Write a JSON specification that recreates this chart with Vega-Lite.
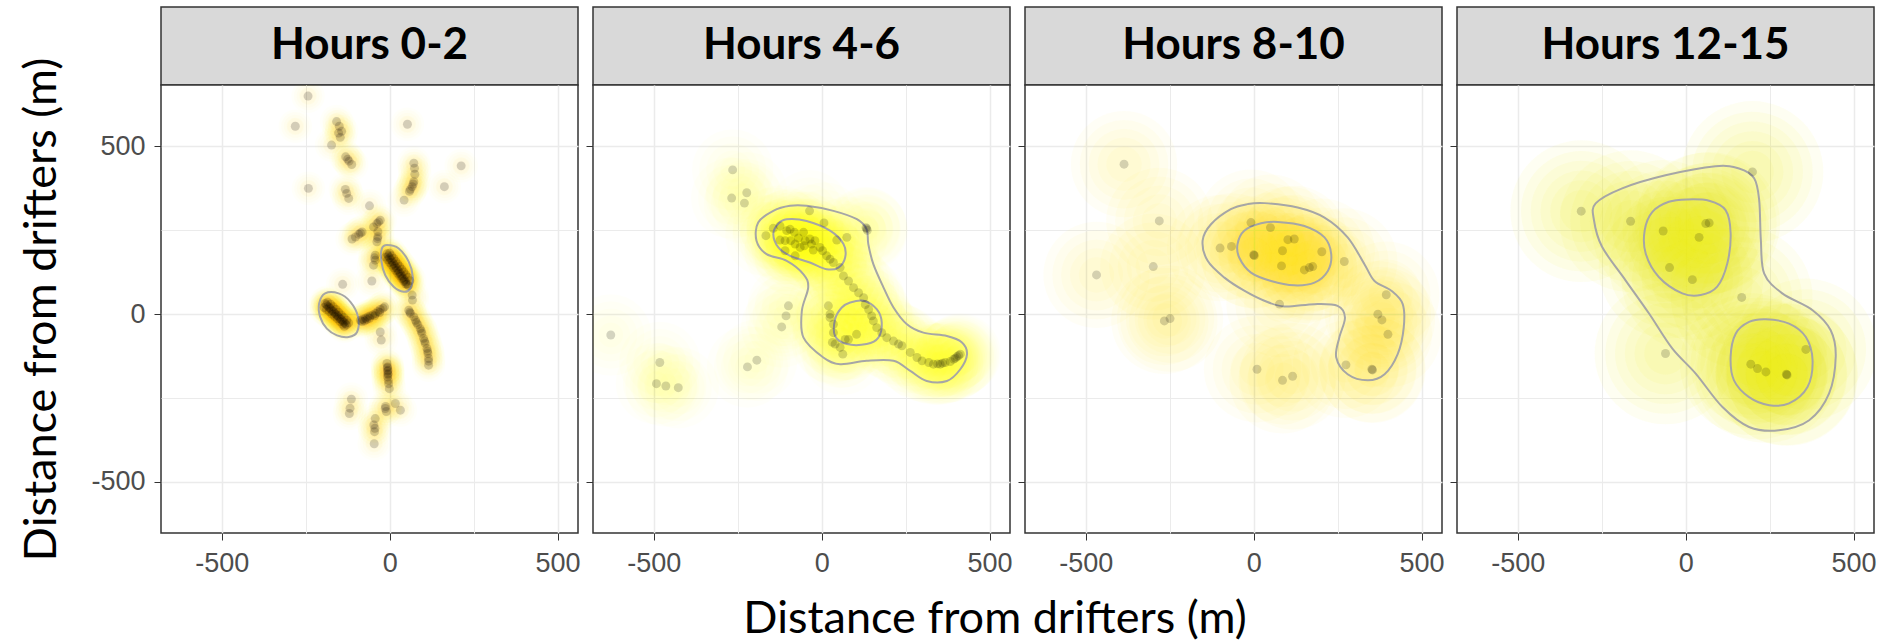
{
  "$schema": "https://vega.github.io/schema/vega-lite/v6.json",
  "background": "white",
  "padding": {"left": 19, "top": 6, "right": 0, "bottom": 0},
  "config": {"view": {"stroke": null}},
  "title": {"text": "Distance from drifters (m)", "orient": "bottom", "anchor": "middle", "frame": "bounds", "dx": 47, "offset": 20, "baseline": "top", "font": "Lato", "fontSize": 45, "fontWeight": "normal", "color": "#000000"},
  "datasets": {
    "p1": [
      {"x":-243,"y":650},{"x":-281,"y":560},{"x":-158,"y":574},{"x":-150,"y":560},{"x":-143,"y":545},{"x":-147,"y":527},{"x":-152,"y":540},{"x":-173,"y":504},{"x":53,"y":566},
      {"x":-131,"y":469},{"x":-121,"y":456},{"x":-113,"y":446},{"x":-125,"y":462},
      {"x":72,"y":450},{"x":74,"y":435},{"x":75,"y":417},{"x":72,"y":395},{"x":67,"y":380},{"x":59,"y":366},{"x":43,"y":340},{"x":62,"y":372},{"x":70,"y":388},
      {"x":213,"y":442},{"x":163,"y":380},{"x":-242,"y":375},{"x":-132,"y":372},{"x":-122,"y":345},{"x":-128,"y":360},{"x":-60,"y":323},
      {"x":-28,"y":280},{"x":-38,"y":270},{"x":-48,"y":260},{"x":-33,"y":275},
      {"x":-82,"y":245},{"x":-92,"y":238},{"x":-102,"y":230},{"x":-87,"y":242},{"x":-112,"y":224},
      {"x":-35,"y":246},{"x":-35,"y":231},{"x":-38,"y":216},{"x":-36,"y":225},
      {"x":-43,"y":176},{"x":-43,"y":161},{"x":-48,"y":146},{"x":-45,"y":168},
      {"x":-140,"y":89},{"x":-53,"y":99},{"x":-28,"y":-53},{"x":-25,"y":-77},
      {"x":67,"y":57},{"x":68,"y":42},{"x":57,"y":12},{"x":62,"y":2},{"x":72,"y":-8},{"x":77,"y":-18},{"x":84,"y":-31},{"x":91,"y":-43},{"x":96,"y":-57},{"x":101,"y":-72},{"x":106,"y":-87},{"x":111,"y":-102},{"x":114,"y":-117},{"x":116,"y":-132},{"x":116,"y":-152},{"x":60,"y":6},{"x":80,"y":-25},{"x":94,"y":-50},{"x":104,"y":-80},{"x":113,"y":-110},{"x":116,"y":-140},
      {"x":-8,"y":-147},{"x":-6,"y":-157},{"x":-5,"y":-167},{"x":-5,"y":-177},{"x":-6,"y":-187},{"x":-4,"y":-197},{"x":-3,"y":-207},{"x":-1,"y":-222},{"x":-6,"y":-170},{"x":-5,"y":-180},{"x":-7,"y":-160},
      {"x":-114,"y":-253},{"x":-120,"y":-296},{"x":-118,"y":-280},{"x":-13,"y":-281},{"x":-10,"y":-290},{"x":-12,"y":-275},{"x":17,"y":-266},{"x":32,"y":-286},{"x":-43,"y":-311},{"x":-45,"y":-350},{"x":-46,"y":-386},{"x":-47,"y":-330},{"x":-44,"y":-340},
      {"x":-87,"y":-18},{"x":-80,"y":-15},{"x":-72,"y":-12},{"x":-65,"y":-8},{"x":-58,"y":-5},{"x":-50,"y":-2},{"x":-42,"y":2},{"x":-35,"y":8},{"x":-28,"y":14},{"x":-20,"y":18},{"x":-15,"y":22},{"x":-75,"y":-20},{"x":-60,"y":-12},{"x":-45,"y":-5},{"x":-30,"y":5},{"x":-83,"y":-22},{"x":-68,"y":-16},
      {"x":-192,"y":32},{"x":-188,"y":28},{"x":-184,"y":24},{"x":-180,"y":20},{"x":-176,"y":16},{"x":-172,"y":12},{"x":-168,"y":8},{"x":-164,"y":4},{"x":-160,"y":0},{"x":-156,"y":-4},{"x":-152,"y":-8},{"x":-148,"y":-12},{"x":-144,"y":-16},{"x":-140,"y":-20},{"x":-136,"y":-24},{"x":-132,"y":-28},{"x":-128,"y":-32},{"x":-195,"y":20},{"x":-188,"y":14},{"x":-180,"y":8},{"x":-172,"y":0},{"x":-164,"y":-6},{"x":-156,"y":-14},{"x":-148,"y":-22},{"x":-140,"y":-30},{"x":-135,"y":-36},{"x":-185,"y":36},{"x":-176,"y":30},{"x":-168,"y":22},{"x":-160,"y":14},{"x":-152,"y":6},{"x":-144,"y":-2},{"x":-136,"y":-10},{"x":-128,"y":-18},{"x":-122,"y":-26},
      {"x":-8,"y":180},{"x":-4,"y":174},{"x":0,"y":168},{"x":4,"y":162},{"x":8,"y":156},{"x":12,"y":150},{"x":16,"y":144},{"x":20,"y":138},{"x":24,"y":132},{"x":28,"y":126},{"x":32,"y":120},{"x":36,"y":114},{"x":40,"y":108},{"x":44,"y":102},{"x":48,"y":96},{"x":52,"y":90},{"x":56,"y":85},{"x":-12,"y":170},{"x":-6,"y":162},{"x":0,"y":154},{"x":6,"y":146},{"x":12,"y":138},{"x":18,"y":130},{"x":24,"y":122},{"x":30,"y":114},{"x":36,"y":106},{"x":42,"y":98},{"x":48,"y":90},{"x":0,"y":182},{"x":6,"y":174},{"x":12,"y":166},{"x":18,"y":158},{"x":24,"y":150},{"x":30,"y":142},{"x":36,"y":134},{"x":42,"y":126},{"x":48,"y":118},{"x":54,"y":110},{"x":60,"y":100}
    ],
    "p2": [
      {"x":-265,"y":430},{"x":-268,"y":346},{"x":-223,"y":362},{"x":-230,"y":331},{"x":-628,"y":-62},{"x":-482,"y":-144},{"x":-492,"y":-207},{"x":-464,"y":-214},{"x":-427,"y":-219},{"x":-193,"y":-137},{"x":-221,"y":-157},{"x":-99,"y":25},{"x":-106,"y":-5},{"x":-119,"y":-38},{"x":-36,"y":308},{"x":7,"y":272},{"x":134,"y":255},{"x":136,"y":250},{"x":132,"y":258},
      {"x":-166,"y":234},{"x":-144,"y":256},{"x":-124,"y":263},{"x":-104,"y":249},{"x":-94,"y":253},{"x":-81,"y":244},{"x":-92,"y":219},{"x":-109,"y":219},{"x":-124,"y":221},{"x":-79,"y":209},{"x":-64,"y":199},{"x":-52,"y":204},{"x":-35,"y":224},{"x":-30,"y":209},{"x":-25,"y":191},{"x":-5,"y":199},{"x":3,"y":189},{"x":15,"y":174},{"x":25,"y":164},{"x":35,"y":154},{"x":45,"y":221},{"x":75,"y":229},{"x":-79,"y":174},{"x":-109,"y":189},{"x":-20,"y":219},{"x":-54,"y":244},{"x":-69,"y":227},{"x":-49,"y":219},
      {"x":55,"y":139},{"x":65,"y":114},{"x":80,"y":99},{"x":95,"y":79},{"x":110,"y":64},{"x":125,"y":49},{"x":130,"y":29},{"x":140,"y":14},{"x":149,"y":-5},{"x":154,"y":-20},{"x":164,"y":-40},{"x":179,"y":-55},{"x":194,"y":-70},{"x":214,"y":-80},{"x":229,"y":-89},{"x":239,"y":-94},
      {"x":264,"y":-114},{"x":284,"y":-129},{"x":299,"y":-139},{"x":319,"y":-144},{"x":333,"y":-149},{"x":353,"y":-149},{"x":368,"y":-144},{"x":383,"y":-141},{"x":393,"y":-134},{"x":403,"y":-127},{"x":413,"y":-119},{"x":398,"y":-131},{"x":408,"y":-123},{"x":345,"y":-148},{"x":360,"y":-146},
      {"x":20,"y":25},{"x":25,"y":0},{"x":35,"y":-30},{"x":35,"y":-55},{"x":32,"y":-84},{"x":55,"y":-99},{"x":63,"y":-119},{"x":70,"y":-75},{"x":104,"y":-60},{"x":80,"y":-75},{"x":40,"y":-89},{"x":25,"y":-10}
    ],
    "p3": [
      {"x":-386,"y":447},{"x":-281,"y":278},{"x":-468,"y":117},{"x":-299,"y":142},{"x":-266,"y":-20},{"x":-249,"y":-13},{"x":-100,"y":197},{"x":-66,"y":202},{"x":-8,"y":273},{"x":50,"y":258},{"x":0,"y":177},{"x":2,"y":175},{"x":86,"y":189},{"x":102,"y":222},{"x":121,"y":224},{"x":83,"y":144},{"x":151,"y":132},{"x":166,"y":139},{"x":176,"y":142},{"x":203,"y":186},{"x":270,"y":157},{"x":77,"y":30},{"x":395,"y":58},{"x":370,"y":0},{"x":382,"y":-17},{"x":400,"y":-60},{"x":275,"y":-151},{"x":352,"y":-164},{"x":354,"y":-166},{"x":10,"y":-164},{"x":86,"y":-197},{"x":116,"y":-185}
    ],
    "p4": [
      {"x":-311,"y":307},{"x":-164,"y":277},{"x":199,"y":424},{"x":-67,"y":248},{"x":60,"y":270},{"x":70,"y":272},{"x":40,"y":229},{"x":-48,"y":139},{"x":20,"y":103},{"x":167,"y":50},{"x":-60,"y":-117},{"x":358,"y":-105},{"x":194,"y":-149},{"x":214,"y":-162},{"x":239,"y":-172},{"x":300,"y":-179},{"x":302,"y":-181}
    ],
    "c1": [
      {"id":"a","o":1,"x":-8,"y":206},{"id":"a","o":2,"x":27,"y":196},{"id":"a","o":3,"x":57,"y":156},{"id":"a","o":4,"x":69,"y":111},{"id":"a","o":5,"x":62,"y":77},{"id":"a","o":6,"x":42,"y":67},{"id":"a","o":7,"x":12,"y":82},{"id":"a","o":8,"x":-13,"y":116},{"id":"a","o":9,"x":-25,"y":161},{"id":"a","o":10,"x":-23,"y":196},
      {"id":"b","o":1,"x":-192,"y":62},{"id":"b","o":2,"x":-152,"y":62},{"id":"b","o":3,"x":-117,"y":37},{"id":"b","o":4,"x":-94,"y":-8},{"id":"b","o":5,"x":-97,"y":-53},{"id":"b","o":6,"x":-122,"y":-68},{"id":"b","o":7,"x":-157,"y":-63},{"id":"b","o":8,"x":-187,"y":-43},{"id":"b","o":9,"x":-207,"y":-8},{"id":"b","o":10,"x":-210,"y":32}
    ],
    "c2": [
      {"id":"o","o":1,"x":-45,"y":323},{"id":"o","o":2,"x":35,"y":308},{"id":"o","o":3,"x":105,"y":283},{"id":"o","o":4,"x":134,"y":253},{"id":"o","o":5,"x":139,"y":209},{"id":"o","o":6,"x":154,"y":149},{"id":"o","o":7,"x":184,"y":80},{"id":"o","o":8,"x":214,"y":20},{"id":"o","o":9,"x":254,"y":-30},{"id":"o","o":10,"x":303,"y":-55},{"id":"o","o":11,"x":373,"y":-65},{"id":"o","o":12,"x":418,"y":-84},{"id":"o","o":13,"x":433,"y":-119},{"id":"o","o":14,"x":413,"y":-164},{"id":"o","o":15,"x":373,"y":-199},{"id":"o","o":16,"x":313,"y":-199},{"id":"o","o":17,"x":264,"y":-169},{"id":"o","o":18,"x":214,"y":-139},{"id":"o","o":19,"x":134,"y":-139},{"id":"o","o":20,"x":55,"y":-149},{"id":"o","o":21,"x":5,"y":-129},{"id":"o","o":22,"x":-54,"y":-70},{"id":"o","o":23,"x":-59,"y":10},{"id":"o","o":24,"x":-40,"y":80},{"id":"o","o":25,"x":-54,"y":119},{"id":"o","o":26,"x":-104,"y":159},{"id":"o","o":27,"x":-164,"y":179},{"id":"o","o":28,"x":-194,"y":219},{"id":"o","o":29,"x":-189,"y":273},{"id":"o","o":30,"x":-144,"y":308},{"id":"o","o":31,"x":-94,"y":323},
      {"id":"a","o":1,"x":-104,"y":283},{"id":"a","o":2,"x":-45,"y":278},{"id":"a","o":3,"x":25,"y":249},{"id":"a","o":4,"x":65,"y":209},{"id":"a","o":5,"x":70,"y":169},{"id":"a","o":6,"x":50,"y":139},{"id":"a","o":7,"x":15,"y":134},{"id":"a","o":8,"x":-35,"y":154},{"id":"a","o":9,"x":-94,"y":174},{"id":"a","o":10,"x":-129,"y":199},{"id":"a","o":11,"x":-144,"y":239},{"id":"a","o":12,"x":-129,"y":270},
      {"id":"b","o":1,"x":85,"y":35},{"id":"b","o":2,"x":125,"y":40},{"id":"b","o":3,"x":164,"y":15},{"id":"b","o":4,"x":179,"y":-25},{"id":"b","o":5,"x":169,"y":-70},{"id":"b","o":6,"x":134,"y":-89},{"id":"b","o":7,"x":75,"y":-89},{"id":"b","o":8,"x":40,"y":-65},{"id":"b","o":9,"x":40,"y":-15},{"id":"b","o":10,"x":60,"y":20}
    ],
    "c3": [
      {"id":"o","o":1,"x":32,"y":331},{"id":"o","o":2,"x":131,"y":318},{"id":"o","o":3,"x":211,"y":288},{"id":"o","o":4,"x":280,"y":229},{"id":"o","o":5,"x":330,"y":149},{"id":"o","o":6,"x":360,"y":99},{"id":"o","o":7,"x":410,"y":70},{"id":"o","o":8,"x":444,"y":30},{"id":"o","o":9,"x":447,"y":-40},{"id":"o","o":10,"x":429,"y":-119},{"id":"o","o":11,"x":390,"y":-179},{"id":"o","o":12,"x":340,"y":-197},{"id":"o","o":13,"x":280,"y":-179},{"id":"o","o":14,"x":246,"y":-129},{"id":"o","o":15,"x":255,"y":-70},{"id":"o","o":16,"x":272,"y":-10},{"id":"o","o":17,"x":250,"y":25},{"id":"o","o":18,"x":181,"y":30},{"id":"o","o":19,"x":91,"y":23},{"id":"o","o":20,"x":32,"y":40},{"id":"o","o":21,"x":-28,"y":70},{"id":"o","o":22,"x":-87,"y":109},{"id":"o","o":23,"x":-137,"y":159},{"id":"o","o":24,"x":-152,"y":219},{"id":"o","o":25,"x":-127,"y":268},{"id":"o","o":26,"x":-68,"y":313},{"id":"o","o":27,"x":-18,"y":328},
      {"id":"a","o":1,"x":72,"y":275},{"id":"a","o":2,"x":151,"y":263},{"id":"a","o":3,"x":211,"y":229},{"id":"a","o":4,"x":231,"y":179},{"id":"a","o":5,"x":221,"y":129},{"id":"a","o":6,"x":181,"y":94},{"id":"a","o":7,"x":121,"y":86},{"id":"a","o":8,"x":52,"y":99},{"id":"a","o":9,"x":-8,"y":124},{"id":"a","o":10,"x":-43,"y":169},{"id":"a","o":11,"x":-48,"y":209},{"id":"a","o":12,"x":-28,"y":249},{"id":"a","o":13,"x":22,"y":271}
    ],
    "c4": [
      {"id":"o","o":1,"x":-268,"y":330},{"id":"o","o":2,"x":-189,"y":375},{"id":"o","o":3,"x":-60,"y":414},{"id":"o","o":4,"x":89,"y":441},{"id":"o","o":5,"x":159,"y":434},{"id":"o","o":6,"x":204,"y":405},{"id":"o","o":7,"x":219,"y":340},{"id":"o","o":8,"x":224,"y":221},{"id":"o","o":9,"x":234,"y":121},{"id":"o","o":10,"x":288,"y":62},{"id":"o","o":11,"x":378,"y":12},{"id":"o","o":12,"x":432,"y":-48},{"id":"o","o":13,"x":447,"y":-127},{"id":"o","o":14,"x":427,"y":-237},{"id":"o","o":15,"x":368,"y":-316},{"id":"o","o":16,"x":278,"y":-346},{"id":"o","o":17,"x":189,"y":-336},{"id":"o","o":18,"x":109,"y":-276},{"id":"o","o":19,"x":30,"y":-177},{"id":"o","o":20,"x":-40,"y":-102},{"id":"o","o":21,"x":-109,"y":2},{"id":"o","o":22,"x":-179,"y":101},{"id":"o","o":23,"x":-249,"y":201},{"id":"o","o":24,"x":-273,"y":280},
      {"id":"a","o":1,"x":5,"y":342},{"id":"a","o":2,"x":70,"y":338},{"id":"a","o":3,"x":119,"y":310},{"id":"a","o":4,"x":134,"y":241},{"id":"a","o":5,"x":124,"y":151},{"id":"a","o":6,"x":94,"y":82},{"id":"a","o":7,"x":45,"y":57},{"id":"a","o":8,"x":-10,"y":62},{"id":"a","o":9,"x":-80,"y":111},{"id":"a","o":10,"x":-119,"y":181},{"id":"a","o":11,"x":-122,"y":250},{"id":"a","o":12,"x":-99,"y":305},{"id":"a","o":13,"x":-50,"y":335},
      {"id":"b","o":1,"x":239,"y":-15},{"id":"b","o":2,"x":308,"y":-28},{"id":"b","o":3,"x":358,"y":-68},{"id":"b","o":4,"x":378,"y":-137},{"id":"b","o":5,"x":363,"y":-217},{"id":"b","o":6,"x":308,"y":-266},{"id":"b","o":7,"x":249,"y":-271},{"id":"b","o":8,"x":189,"y":-247},{"id":"b","o":9,"x":144,"y":-197},{"id":"b","o":10,"x":134,"y":-127},{"id":"b","o":11,"x":149,"y":-58},{"id":"b","o":12,"x":189,"y":-23}
    ]
  },
  "spacing": 3,
  "resolve": {"scale": {"x": "independent", "y": "independent"}},
  "hconcat": [
    {
      "vconcat": [
        {
          "width": 417, "height": 78,
          "view": {"fill": "#d9d9d9", "stroke": "#333333", "strokeWidth": 1.5},
          "data": {"values": [{"label": "Hours 0-2"}]},
          "mark": {"type": "text", "font": "Lato", "fontWeight": "bold", "fontSize": 44, "color": "#000000"},
          "encoding": {"text": {"field": "label"}, "x": {"field": "label", "type": "nominal", "axis": null}, "y": {"field": "label", "type": "nominal", "axis": null}}
        },
        {
          "width": 417, "height": 448,
          "view": {"fill": "white", "stroke": "#333333", "strokeWidth": 1.5},
          "encoding": {
            "x": {"field": "x", "type": "quantitative", "scale": {"domain": [-681, 561], "nice": false, "zero": false},
              "axis": {"values": [-500, -250, 0, 250, 500], "labelExpr": "abs(datum.value) == 250 ? '' : (datum.value < 0 ? '-' + abs(datum.value) : '' + datum.value)", "title": null, "domain": false, "grid": true, "gridColor": "#ebebeb", "gridWidth": {"condition": {"test": "abs(datum.value) == 250", "value": 1}, "value": 1.5}, "tickSize": 7, "tickColor": "#333333", "tickOpacity": {"condition": {"test": "abs(datum.value) == 250", "value": 0}, "value": 1}, "labelFont": "Liberation Sans", "labelFontSize": 27, "labelColor": "#4d4d4d", "labelPadding": 10, "labelFlush": false, "labelOverlap": false}},
            "y": {"field": "y", "type": "quantitative", "scale": {"domain": [-652, 683], "nice": false, "zero": false},
              "axis": {"values": [-500, -250, 0, 250, 500], "labelExpr": "abs(datum.value) == 250 ? '' : (datum.value < 0 ? '-' + abs(datum.value) : '' + datum.value)", "title": "Distance from drifters (m)", "titleFont": "Lato", "titleFontSize": 45, "titleFontWeight": "normal", "titleColor": "#000000", "titlePadding": 26, "domain": false, "grid": true, "gridColor": "#ebebeb", "gridWidth": {"condition": {"test": "abs(datum.value) == 250", "value": 1}, "value": 1.5}, "tickSize": 7, "tickColor": "#333333", "tickOpacity": {"condition": {"test": "abs(datum.value) == 250", "value": 0}, "value": 1}, "labelFont": "Liberation Sans", "labelFontSize": 27, "labelColor": "#4d4d4d", "labelPadding": 9, "labelFlush": false, "labelOverlap": false}}
          },
          "layer": [
            {"data": {"name": "p1"}, "mark": {"type": "circle", "size": 1134, "color": "#f4e800", "opacity": 0.02, "clip": true}},
            {"data": {"name": "p1"}, "mark": {"type": "circle", "size": 804, "color": "#f4e800", "opacity": 0.025, "clip": true}},
            {"data": {"name": "p1"}, "mark": {"type": "circle", "size": 531, "color": "#f4e800", "opacity": 0.025, "clip": true}},
            {"data": {"name": "p1"}, "mark": {"type": "circle", "size": 314, "color": "#f4e800", "opacity": 0.03, "clip": true}},
            {"data": {"name": "p1"}, "mark": {"type": "circle", "size": 254, "color": "#f2a000", "opacity": 0.02, "clip": true}},
            {"data": {"name": "p1"}, "mark": {"type": "circle", "size": 113, "color": "#e8501a", "opacity": 0.02, "clip": true}},
            {"data": {"name": "c1"}, "mark": {"type": "line", "color": "#a6a6a6", "strokeWidth": 2, "interpolate": "cardinal-closed", "clip": true}, "encoding": {"detail": {"field": "id"}, "order": {"field": "o", "type": "quantitative"}}},
            {"data": {"name": "p1"}, "mark": {"type": "circle", "size": 80, "color": "#000000", "opacity": 0.17, "clip": true}}
          ]
        }
      ],
      "spacing": 0, "bounds": "flush",
      "resolve": {"scale": {"x": "independent", "y": "independent"}}
    },
    {
      "vconcat": [
        {
          "width": 417, "height": 78,
          "view": {"fill": "#d9d9d9", "stroke": "#333333", "strokeWidth": 1.5},
          "data": {"values": [{"label": "Hours 4-6"}]},
          "mark": {"type": "text", "font": "Lato", "fontWeight": "bold", "fontSize": 44, "color": "#000000"},
          "encoding": {"text": {"field": "label"}, "x": {"field": "label", "type": "nominal", "axis": null}, "y": {"field": "label", "type": "nominal", "axis": null}}
        },
        {
          "width": 417, "height": 448,
          "view": {"fill": "white", "stroke": "#333333", "strokeWidth": 1.5},
          "encoding": {
            "x": {"field": "x", "type": "quantitative", "scale": {"domain": [-681, 561], "nice": false, "zero": false},
              "axis": {"values": [-500, -250, 0, 250, 500], "labelExpr": "abs(datum.value) == 250 ? '' : (datum.value < 0 ? '-' + abs(datum.value) : '' + datum.value)", "title": null, "domain": false, "grid": true, "gridColor": "#ebebeb", "gridWidth": {"condition": {"test": "abs(datum.value) == 250", "value": 1}, "value": 1.5}, "tickSize": 7, "tickColor": "#333333", "tickOpacity": {"condition": {"test": "abs(datum.value) == 250", "value": 0}, "value": 1}, "labelFont": "Liberation Sans", "labelFontSize": 27, "labelColor": "#4d4d4d", "labelPadding": 10, "labelFlush": false, "labelOverlap": false}},
            "y": {"field": "y", "type": "quantitative", "scale": {"domain": [-652, 683], "nice": false, "zero": false},
              "axis": {"values": [-500, -250, 0, 250, 500], "labels": false, "title": null, "domain": false, "grid": true, "gridColor": "#ebebeb", "gridWidth": {"condition": {"test": "abs(datum.value) == 250", "value": 1}, "value": 1.5}, "tickSize": 7, "tickColor": "#333333", "tickOpacity": {"condition": {"test": "abs(datum.value) == 250", "value": 0}, "value": 1}}}
          },
          "layer": [
            {"data": {"name": "p2"}, "mark": {"type": "circle", "size": 6648, "color": "#f4e800", "opacity": 0.018, "clip": true}},
            {"data": {"name": "p2"}, "mark": {"type": "circle", "size": 4536, "color": "#f4e800", "opacity": 0.018, "clip": true}},
            {"data": {"name": "p2"}, "mark": {"type": "circle", "size": 2827, "color": "#f4e800", "opacity": 0.018, "clip": true}},
            {"data": {"name": "p2"}, "mark": {"type": "circle", "size": 1521, "color": "#f4e800", "opacity": 0.018, "clip": true}},
            {"data": {"name": "p2"}, "mark": {"type": "circle", "size": 616, "color": "#f4e800", "opacity": 0.018, "clip": true}},
            {"data": {"name": "c2"}, "mark": {"type": "line", "color": "#a6a6a6", "strokeWidth": 2, "interpolate": "cardinal-closed", "clip": true}, "encoding": {"detail": {"field": "id"}, "order": {"field": "o", "type": "quantitative"}}},
            {"data": {"name": "p2"}, "mark": {"type": "circle", "size": 80, "color": "#000000", "opacity": 0.17, "clip": true}}
          ]
        }
      ],
      "spacing": 0, "bounds": "flush",
      "resolve": {"scale": {"x": "independent", "y": "independent"}}
    },
    {
      "vconcat": [
        {
          "width": 417, "height": 78,
          "view": {"fill": "#d9d9d9", "stroke": "#333333", "strokeWidth": 1.5},
          "data": {"values": [{"label": "Hours 8-10"}]},
          "mark": {"type": "text", "font": "Lato", "fontWeight": "bold", "fontSize": 44, "color": "#000000"},
          "encoding": {"text": {"field": "label"}, "x": {"field": "label", "type": "nominal", "axis": null}, "y": {"field": "label", "type": "nominal", "axis": null}}
        },
        {
          "width": 417, "height": 448,
          "view": {"fill": "white", "stroke": "#333333", "strokeWidth": 1.5},
          "encoding": {
            "x": {"field": "x", "type": "quantitative", "scale": {"domain": [-681, 561], "nice": false, "zero": false},
              "axis": {"values": [-500, -250, 0, 250, 500], "labelExpr": "abs(datum.value) == 250 ? '' : (datum.value < 0 ? '-' + abs(datum.value) : '' + datum.value)", "title": null, "domain": false, "grid": true, "gridColor": "#ebebeb", "gridWidth": {"condition": {"test": "abs(datum.value) == 250", "value": 1}, "value": 1.5}, "tickSize": 7, "tickColor": "#333333", "tickOpacity": {"condition": {"test": "abs(datum.value) == 250", "value": 0}, "value": 1}, "labelFont": "Liberation Sans", "labelFontSize": 27, "labelColor": "#4d4d4d", "labelPadding": 10, "labelFlush": false, "labelOverlap": false}},
            "y": {"field": "y", "type": "quantitative", "scale": {"domain": [-652, 683], "nice": false, "zero": false},
              "axis": {"values": [-500, -250, 0, 250, 500], "labels": false, "title": null, "domain": false, "grid": true, "gridColor": "#ebebeb", "gridWidth": {"condition": {"test": "abs(datum.value) == 250", "value": 1}, "value": 1.5}, "tickSize": 7, "tickColor": "#333333", "tickOpacity": {"condition": {"test": "abs(datum.value) == 250", "value": 0}, "value": 1}}}
          },
          "layer": [
            {"data": {"name": "p3"}, "mark": {"type": "circle", "size": 11310, "color": "#f4e800", "opacity": 0.035, "clip": true}},
            {"data": {"name": "p3"}, "mark": {"type": "circle", "size": 7850, "color": "#f4e800", "opacity": 0.035, "clip": true}},
            {"data": {"name": "p3"}, "mark": {"type": "circle", "size": 5030, "color": "#f4e800", "opacity": 0.035, "clip": true}},
            {"data": {"name": "p3"}, "mark": {"type": "circle", "size": 2830, "color": "#f4e800", "opacity": 0.035, "clip": true}},
            {"data": {"name": "p3"}, "mark": {"type": "circle", "size": 1257, "color": "#f4e800", "opacity": 0.035, "clip": true}},
            {"data": {"name": "c3"}, "mark": {"type": "line", "color": "#a6a6a6", "strokeWidth": 2, "interpolate": "cardinal-closed", "clip": true}, "encoding": {"detail": {"field": "id"}, "order": {"field": "o", "type": "quantitative"}}},
            {"data": {"name": "p3"}, "mark": {"type": "circle", "size": 80, "color": "#000000", "opacity": 0.17, "clip": true}}
          ]
        }
      ],
      "spacing": 0, "bounds": "flush",
      "resolve": {"scale": {"x": "independent", "y": "independent"}}
    },
    {
      "vconcat": [
        {
          "width": 417, "height": 78,
          "view": {"fill": "#d9d9d9", "stroke": "#333333", "strokeWidth": 1.5},
          "data": {"values": [{"label": "Hours 12-15"}]},
          "mark": {"type": "text", "font": "Lato", "fontWeight": "bold", "fontSize": 44, "color": "#000000"},
          "encoding": {"text": {"field": "label"}, "x": {"field": "label", "type": "nominal", "axis": null}, "y": {"field": "label", "type": "nominal", "axis": null}}
        },
        {
          "width": 417, "height": 448,
          "view": {"fill": "white", "stroke": "#333333", "strokeWidth": 1.5},
          "encoding": {
            "x": {"field": "x", "type": "quantitative", "scale": {"domain": [-681, 561], "nice": false, "zero": false},
              "axis": {"values": [-500, -250, 0, 250, 500], "labelExpr": "abs(datum.value) == 250 ? '' : (datum.value < 0 ? '-' + abs(datum.value) : '' + datum.value)", "title": null, "domain": false, "grid": true, "gridColor": "#ebebeb", "gridWidth": {"condition": {"test": "abs(datum.value) == 250", "value": 1}, "value": 1.5}, "tickSize": 7, "tickColor": "#333333", "tickOpacity": {"condition": {"test": "abs(datum.value) == 250", "value": 0}, "value": 1}, "labelFont": "Liberation Sans", "labelFontSize": 27, "labelColor": "#4d4d4d", "labelPadding": 10, "labelFlush": false, "labelOverlap": false}},
            "y": {"field": "y", "type": "quantitative", "scale": {"domain": [-652, 683], "nice": false, "zero": false},
              "axis": {"values": [-500, -250, 0, 250, 500], "labels": false, "title": null, "domain": false, "grid": true, "gridColor": "#ebebeb", "gridWidth": {"condition": {"test": "abs(datum.value) == 250", "value": 1}, "value": 1.5}, "tickSize": 7, "tickColor": "#333333", "tickOpacity": {"condition": {"test": "abs(datum.value) == 250", "value": 0}, "value": 1}}}
          },
          "layer": [
            {"data": {"name": "p4"}, "mark": {"type": "circle", "size": 20106, "color": "#f4e800", "opacity": 0.05, "clip": true}},
            {"data": {"name": "p4"}, "mark": {"type": "circle", "size": 14527, "color": "#f4e800", "opacity": 0.055, "clip": true}},
            {"data": {"name": "p4"}, "mark": {"type": "circle", "size": 10207, "color": "#f4e800", "opacity": 0.055, "clip": true}},
            {"data": {"name": "p4"}, "mark": {"type": "circle", "size": 6648, "color": "#f4e800", "opacity": 0.055, "clip": true}},
            {"data": {"name": "p4"}, "mark": {"type": "circle", "size": 3848, "color": "#f4e800", "opacity": 0.055, "clip": true}},
            {"data": {"name": "p4"}, "mark": {"type": "circle", "size": 1810, "color": "#f4e800", "opacity": 0.055, "clip": true}},
            {"data": {"name": "c4"}, "mark": {"type": "line", "color": "#a6a6a6", "strokeWidth": 2, "interpolate": "cardinal-closed", "clip": true}, "encoding": {"detail": {"field": "id"}, "order": {"field": "o", "type": "quantitative"}}},
            {"data": {"name": "p4"}, "mark": {"type": "circle", "size": 80, "color": "#000000", "opacity": 0.17, "clip": true}}
          ]
        }
      ],
      "spacing": 0, "bounds": "flush",
      "resolve": {"scale": {"x": "independent", "y": "independent"}}
    }
  ]
}
